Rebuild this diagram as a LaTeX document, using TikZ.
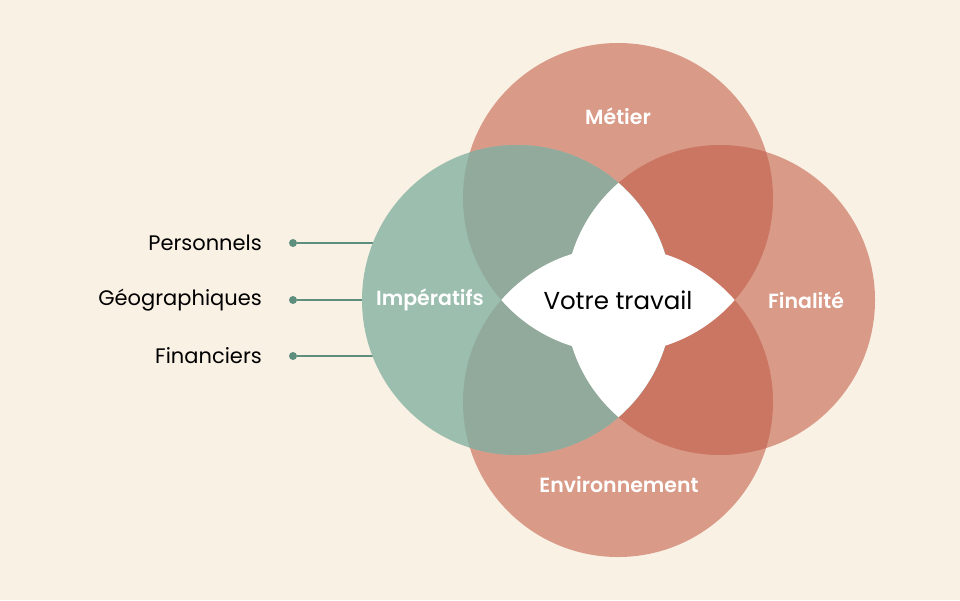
\documentclass[tikz,border=0pt]{standalone}
\usepackage{fontspec}
\setmainfont{Poppins}[BoldFont={Poppins SemiBold}]
\definecolor{bgc}{HTML}{FAF1E5}
\definecolor{salmon}{HTML}{D99A87}
\definecolor{salmondark}{HTML}{CB7663}
\definecolor{sage}{HTML}{9BBEAF}
\definecolor{sagedark}{HTML}{91AA9B}
\definecolor{linec}{HTML}{5E8F7E}
\begin{document}
\begin{tikzpicture}[x=1pt,y=-1pt,
  dotnode/.style={circle,fill=linec,inner sep=0pt,minimum size=8pt},
  conn/.style={draw=linec,line width=1.5pt},
  sidelab/.style={anchor=east,inner sep=0pt,text=black,font=\fontsize{21}{24}\selectfont},
  circlab/.style={inner sep=0pt,text=white,font=\fontsize{20.5}{24}\selectfont\bfseries},
  centerlab/.style={inner sep=0pt,text=black,font=\fontsize{24.5}{28}\selectfont}]
\useasboundingbox (0,0) rectangle (960,600);
\fill[bgc] (0,0) rectangle (960,600);
\coordinate (cT) at (618,198);
\coordinate (cR) at (720,300);
\coordinate (cB) at (618,402);
\coordinate (cL) at (517,300);
\def\rad{155pt}
% side connectors
\node[dotnode] (d1) at (293,243) {};
\node[dotnode] (d2) at (293,300) {};
\node[dotnode] (d3) at (293,356) {};
\coordinate (e1) at (390,243);
\coordinate (e2) at (390,300);
\coordinate (e3) at (390,356);
\draw[conn] (d1) -- (e1);
\draw[conn] (d2) -- (e2);
\draw[conn] (d3) -- (e3);
\node[sidelab] (l1) at (262,243) {Personnels};
\node[sidelab] (l2) at (262,300) {Géographiques};
\node[sidelab] (l3) at (262,356) {Financiers};
% salmon circles
\fill[salmon] (cT) circle[radius=\rad];
\fill[salmon] (cR) circle[radius=\rad];
\fill[salmon] (cB) circle[radius=\rad];
\begin{scope}
\clip (cR) circle[radius=\rad];
\fill[salmondark] (cT) circle[radius=\rad];
\fill[salmondark] (cB) circle[radius=\rad];
\end{scope}
% sage circle
\fill[sage] (cL) circle[radius=\rad];
\begin{scope}
\clip (cL) circle[radius=\rad];
\fill[sagedark] (cT) circle[radius=\rad];
\fill[sagedark] (cB) circle[radius=\rad];
\end{scope}
% white centre
\begin{scope}
\clip (cT) circle[radius=\rad];
\fill[white] (cB) circle[radius=\rad];
\end{scope}
\begin{scope}
\clip (cL) circle[radius=\rad];
\fill[white] (cR) circle[radius=\rad];
\end{scope}
% labels
\node[circlab] (tM) at (618,116) {Métier};
\node[circlab] (tF) at (806,300) {Finalité};
\node[circlab] (tE) at (619,485) {Environnement};
\node[circlab] (tI) at (430,300) {Impératifs};
\node[centerlab] (tV) at (618,300) {Votre travail};
\end{tikzpicture}
\end{document}
